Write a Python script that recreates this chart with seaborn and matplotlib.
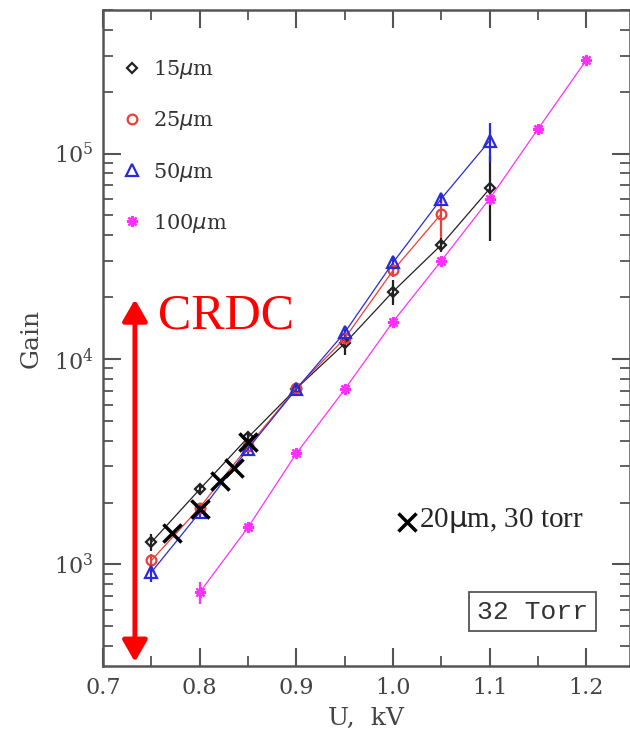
import matplotlib
matplotlib.use("Agg")
import matplotlib.pyplot as plt
import seaborn as sns
import numpy as np
from matplotlib.lines import Line2D
from matplotlib.ticker import MultipleLocator, LogLocator, FormatStrFormatter, NullFormatter

# gain vs voltage, 32 Torr
volt = [0.75, 0.80, 0.85, 0.90, 0.95, 1.00, 1.05, 1.10]
gain_15 = [1280, 2320, 4150, 7180, 11900, 21300, 36000, 67600]
err_15 = [120, 150, 250, 300, 1500, 3000, 3000, 30000]
gain_25 = [1045, 1890, 3750, 7200, 12600, 27000, 51000]
err_25 = [80, 100, 200, 300, 700, 2000, 12000]
gain_50 = [915, 1790, 3660, 7150, 13460, 29500, 60400, 115700]
err_50 = [90, 100, 200, 300, 600, 1500, 3000, 25000]
volt_100 = [0.80, 0.85, 0.90, 0.95, 1.00, 1.05, 1.10, 1.15, 1.20]
gain_100 = [731, 1514, 3470, 7110, 15200, 30100, 60400, 132000, 286000]
err_100 = [90, 80, 150, 300, 600, 1200, 3000, 5000, 10000]

# 20um, 30 torr points
volt_20 = [0.771, 0.80, 0.821, 0.835, 0.85]
gain_20 = [1415, 1870, 2560, 2930, 3930]

labels = [r"15$\mu$m", r"25$\mu$m", r"50$\mu$m", r"100$\mu$m"]
colors = ["#222222", "#e8403a", "#2a2ad8", "#ff30ff"]
markers = ["D", "o", "^", (8, 2, 0)]
msizes = [5, 7, 8, 8]

sns.set_style("ticks")
plt.rcParams["font.family"] = ["DejaVu Serif"]

fig = plt.figure(figsize=(6.3, 7.38), dpi=100)
ax = fig.add_axes([103 / 630, 72 / 738, 527 / 630, 656 / 738])

series = [
    (volt, gain_15, err_15),
    (volt[:7], gain_25, err_25),
    (volt, gain_50, err_50),
    (volt_100, gain_100, err_100),
]
for (xv, yv, ev), c, m, ms in zip(series, colors, markers, msizes):
    ax.errorbar(xv, yv, yerr=ev, fmt="none", ecolor=c, elinewidth=1.6, zorder=2)
    filled = isinstance(m, tuple)
    sns.lineplot(x=xv, y=yv, ax=ax, color=c, lw=0.9, marker=m, markersize=ms,
                 markerfacecolor=c if filled else "none", markeredgecolor=c,
                 markeredgewidth=1.6, zorder=3, legend=False)

sns.scatterplot(x=volt_20, y=gain_20, ax=ax, marker="x", s=170, color="black",
                linewidth=2.5, zorder=5, legend=False)

ax.set_yscale("log")
ax.set_xlim(0.7, 1.245)
ax.set_ylim(320, 5e5)
ax.xaxis.set_major_locator(MultipleLocator(0.1))
ax.xaxis.set_minor_locator(MultipleLocator(0.05))
ax.xaxis.set_major_formatter(FormatStrFormatter("%.1f"))
ax.yaxis.set_major_locator(LogLocator(base=10, numticks=10))
ax.yaxis.set_minor_locator(LogLocator(base=10, subs=np.arange(2, 10), numticks=20))
ax.yaxis.set_minor_formatter(NullFormatter())

ax.tick_params(which="both", direction="in", top=True, right=True, colors="#555555",
               labelcolor="#444444", labelsize=16)
ax.tick_params(which="major", length=13, width=1.5)
ax.tick_params(which="minor", length=7, width=1.3)
ax.tick_params(axis="x", pad=8)
ax.tick_params(axis="y", pad=7)
for s in ax.spines.values():
    s.set_color("#555555")
    s.set_linewidth(1.8)

ax.set_xlabel("U,  kV", fontsize=18, color="#444444", labelpad=6)
ax.set_ylabel("Gain", fontsize=18, color="#444444", labelpad=8)

handles = []
for c, m, ms in zip(colors, markers, msizes):
    filled = isinstance(m, tuple)
    handles.append(Line2D([], [], linestyle="none", marker=m, markersize=ms,
                          color=c, markerfacecolor=c if filled else "none",
                          markeredgewidth=1.6))
leg = ax.legend(handles, labels, loc="upper left", bbox_to_anchor=(-0.005, 0.955),
                frameon=False, fontsize=15, labelspacing=1.35, handletextpad=0.45,
                handlelength=1.2)
for t in leg.get_texts():
    t.set_color("#333333")

# CRDC range arrow
ax.annotate("", xy=(0.733, 335), xytext=(0.733, 19500),
            arrowprops=dict(arrowstyle="<|-|>,head_length=1.3,head_width=0.75",
                            color="red", lw=3.5, shrinkA=0, shrinkB=0))
ax.text(0.757, 16200, "CRDC", color="red", fontsize=36, family="Liberation Serif",
        ha="left", va="center")

# 20um legend entry
ax.plot([0.577], [0.2195], transform=ax.transAxes, marker="x", markersize=13,
        mew=2.5, color="black", linestyle="none")
ax.text(0.6, 0.2225, r"20$\mathrm{\mu}$m, 30 torr", transform=ax.transAxes,
        fontsize=21, family="Liberation Serif", ha="left", va="center")

ax.text(0.815, 0.083, "32 Torr", transform=ax.transAxes, fontsize=19,
        family="Liberation Mono", color="#333333", ha="center", va="center",
        bbox=dict(boxstyle="square,pad=0.3", fc="white", ec="#555555", lw=1.3))

fig.savefig("out.png", dpi=100)
